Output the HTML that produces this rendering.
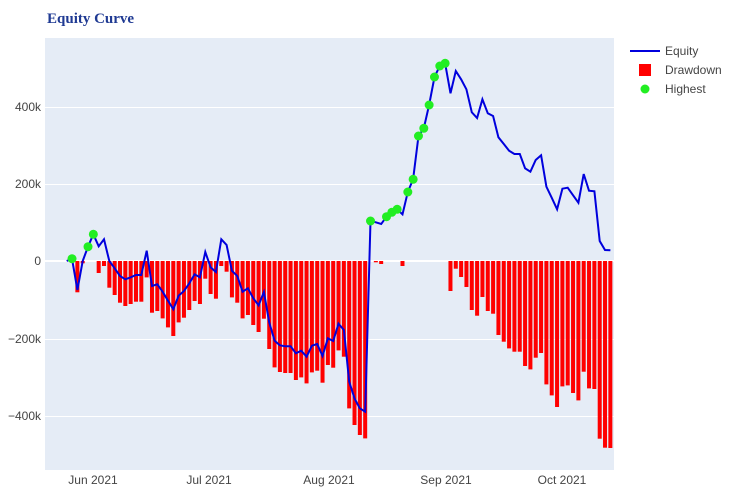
<!DOCTYPE html>
<html><head><meta charset="utf-8">
<style>
body{margin:0;background:#fff;}
svg text{font-family:"Liberation Sans",sans-serif;font-size:12px;fill:#444;}
</style></head>
<body>
<svg id="s" width="731" height="496" xmlns="http://www.w3.org/2000/svg">
<rect x="0" y="0" width="731" height="496" fill="#fff"/>
<rect x="45" y="38" width="569" height="432" fill="#e5ecf6"/>
<g stroke="#fff" stroke-width="1">
<line x1="45" x2="614" y1="107.5" y2="107.5"/>
<line x1="45" x2="614" y1="184.5" y2="184.5"/>
<line x1="45" x2="614" y1="339.5" y2="339.5"/>
<line x1="45" x2="614" y1="416.5" y2="416.5"/>
</g>
<line x1="45" x2="614" y1="261" y2="261" stroke="#fff" stroke-width="2"/>
<g id="bars" fill="#ff0000"></g>
<polyline id="eq" fill="none" stroke="#0000dd" stroke-width="2" points=""/>
<g id="dots" fill="#22ee22"></g>
<g text-anchor="end">
<text x="41" y="111">400k</text>
<text x="41" y="188">200k</text>
<text x="41" y="265">0</text>
<text x="41" y="343">−200k</text>
<text x="41" y="420">−400k</text>
</g>
<g text-anchor="middle">
<text x="93" y="484">Jun 2021</text>
<text x="209" y="484">Jul 2021</text>
<text x="329" y="484">Aug 2021</text>
<text x="446" y="484">Sep 2021</text>
<text x="562" y="484">Oct 2021</text>
</g>
<text x="47" y="23" style="font-family:'Liberation Serif',serif;font-size:15px;font-weight:bold;fill:#1f3a93">Equity Curve</text>
<line x1="630" x2="660" y1="51" y2="51" stroke="#0000dd" stroke-width="2"/>
<text x="665" y="55">Equity</text>
<rect x="639" y="64" width="12" height="12" fill="#ff0000"/>
<text x="665" y="74">Drawdown</text>
<circle cx="645" cy="89" r="4.5" fill="#22ee22"/>
<text x="665" y="93">Highest</text>
</svg>
<script>
var ys=[261,258.7,290,261,246.7,234.3,246.3,239.3,261,268.3,276,279.3,277.3,275,275,250.7,286,284.3,291.7,300.7,309.3,295.7,291,283.3,274.3,277.3,252,267.3,272,239.3,245,270.7,276,291.7,288.3,298.3,305.3,292,322.3,340.7,345.3,346.3,346.3,353.3,350.7,356.7,345.7,344,356,338.3,341,323.7,330,
381.7,398.3,408.3,411.7,221,222.3,224,216.7,212.3,209.3,214.3,192,179.3,136,128.3,105,77,66,63.3,93.3,71,79.3,89.3,112.3,118,99.3,113.3,116,137.3,144,150.7,154,154,168.3,171.7,160,155.3,186.7,197.7,209.3,188.7,187.7,195.3,202.7,174,190.7,191.3,241,250,250.3];
var NS="http://www.w3.org/2000/svg",pts=[],bars=document.getElementById('bars'),dots=document.getElementById('dots');
var mn=ys[0];
for(var i=0;i<ys.length;i++){
 var x=66.7+5.33*i,y=ys[i];pts.push(x.toFixed(1)+','+y);
 if(i>0&&y<mn-0.01){var c=document.createElementNS(NS,'circle');c.setAttribute('cx',x);c.setAttribute('cy',y);c.setAttribute('r',4.5);dots.appendChild(c);}
 if(y<mn)mn=y;
 var dd=y-mn;
 if(dd>0.5){var r=document.createElementNS(NS,'rect');r.setAttribute('x',x-2);r.setAttribute('y',261);r.setAttribute('width',4);r.setAttribute('height',dd);bars.appendChild(r);}
}
document.getElementById('eq').setAttribute('points',pts.join(' '));
</script>
</body></html>
